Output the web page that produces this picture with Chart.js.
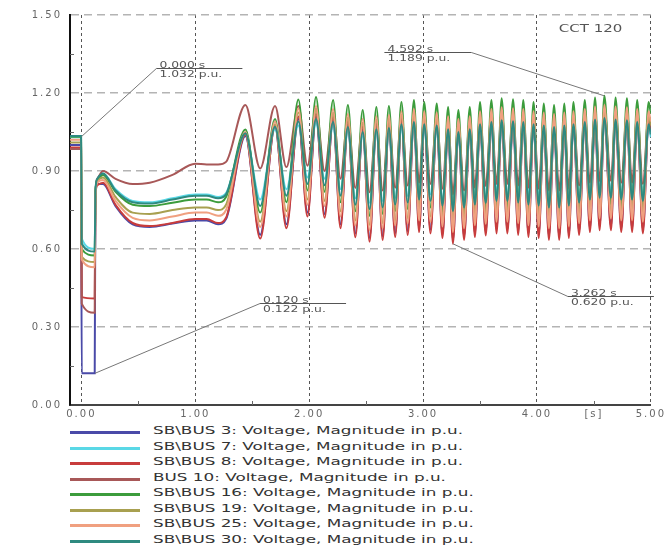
<!DOCTYPE html>
<html>
<head>
<meta charset="utf-8">
<script src="https://cdn.jsdelivr.net/npm/chart.js@4.4.1/dist/chart.umd.min.js"></script>
<style>
  body { margin: 0; background: #fff; }
  #wrap { position: relative; width: 669px; height: 550px; overflow: hidden; }
  #legend { position: absolute; left: 0; top: 425px; width: 669px; }
  .row { position: relative; height: 15.57px; }
  .swatch { position: absolute; left: 70px; top: 6px; width: 70px; height: 3px; }
  .label { position: absolute; left: 153px; top: 0; line-height: 15.57px; font: 10px "DejaVu Sans", sans-serif;
           color: #333; white-space: nowrap; transform: scaleX(1.68); transform-origin: 0 50%; }
</style>
</head>
<body>
<div id="wrap">
  <canvas id="voltChart" width="669" height="425"></canvas>
  <div id="legend"></div>
</div>
<script>
// time base (s): pre-fault / fault / post-fault, then oscillation peaks and troughs
const transientTime = [-0.1, -0.003, 0.003, 0.117, 0.123, 0.14, 0.19, 0.3, 0.45, 0.6, 0.8, 1.0, 1.1, 1.2, 1.27];
const peakTime = [1.44, 1.70, 1.905, 2.06, 2.21, 2.34, 2.47, 2.59, 2.70, 2.81, 2.92, 3.01, 3.12, 3.22, 3.31, 3.41, 3.50,
                  3.60, 3.69, 3.79, 3.88, 3.97, 4.06, 4.15, 4.24, 4.32, 4.42, 4.51, 4.592, 4.69, 4.79, 4.88, 4.98];
const troughTime = [1.57, 1.80, 1.985, 2.135, 2.275, 2.405, 2.53, 2.645, 2.755, 2.865, 2.965, 3.065, 3.17, 3.262, 3.36,
                    3.455, 3.55, 3.645, 3.74, 3.835, 3.925, 4.015, 4.105, 4.195, 4.28, 4.37, 4.465, 4.55, 4.65, 4.74, 4.835, 4.93];
const endTime = 5.0;

const seriesNames = [
  'SB\\BUS 3: Voltage, Magnitude in p.u.',
  'SB\\BUS 7: Voltage, Magnitude in p.u.',
  'SB\\BUS 8: Voltage, Magnitude in p.u.',
  'BUS 10: Voltage, Magnitude in p.u.',
  'SB\\BUS 16: Voltage, Magnitude in p.u.',
  'SB\\BUS 19: Voltage, Magnitude in p.u.',
  'SB\\BUS 25: Voltage, Magnitude in p.u.',
  'SB\\BUS 30: Voltage, Magnitude in p.u.'
];
const seriesColors = ['#4a4aa8', '#5ad8e6', '#c83c3c', '#a85858', '#3c9c3c', '#a8a050', '#f0a080', '#2e8a80'];

const bus3 = {
  transient: [1.00, 1.00, 0.122, 0.122, 0.80, 0.85, 0.85, 0.765, 0.695, 0.685, 0.698, 0.71, 0.71, 0.695, 0.715],
  peaks: [1.035, 1.07, 1.10, 1.11, 1.098, 1.079, 1.06, 1.071, 1.075, 1.09, 1.098, 1.09, 1.085, 1.071, 1.06, 1.071, 1.09,
          1.098, 1.105, 1.101, 1.098, 1.09, 1.085, 1.079, 1.085, 1.09, 1.098, 1.108, 1.114, 1.108, 1.105, 1.098, 1.09],
  troughs: [0.655, 0.695, 0.74, 0.735, 0.695, 0.66, 0.643, 0.65, 0.661, 0.669, 0.68, 0.675, 0.657, 0.635, 0.65, 0.661,
            0.667, 0.675, 0.675, 0.669, 0.661, 0.657, 0.65, 0.65, 0.657, 0.669, 0.68, 0.687, 0.687, 0.68, 0.68, 0.675],
  end: 1.05
};
const bus7 = {
  transient: [1.03, 1.03, 0.64, 0.60, 0.82, 0.87, 0.89, 0.83, 0.785, 0.78, 0.795, 0.81, 0.81, 0.80, 0.815],
  peaks: [1.04, 1.06, 1.075, 1.085, 1.073, 1.054, 1.035, 1.046, 1.05, 1.065, 1.073, 1.065, 1.06, 1.046, 1.035, 1.046, 1.065,
          1.073, 1.08, 1.076, 1.073, 1.065, 1.06, 1.054, 1.06, 1.065, 1.073, 1.083, 1.089, 1.083, 1.08, 1.073, 1.065],
  troughs: [0.79, 0.83, 0.875, 0.87, 0.83, 0.795, 0.778, 0.785, 0.796, 0.804, 0.815, 0.81, 0.792, 0.77, 0.785, 0.796,
            0.802, 0.81, 0.81, 0.804, 0.796, 0.792, 0.785, 0.785, 0.792, 0.804, 0.815, 0.822, 0.822, 0.815, 0.815, 0.81],
  end: 1.03
};
const bus8 = {
  transient: [0.99, 0.99, 0.415, 0.41, 0.80, 0.845, 0.855, 0.77, 0.70, 0.688, 0.70, 0.715, 0.715, 0.70, 0.72],
  peaks: [1.04, 1.075, 1.11, 1.12, 1.108, 1.089, 1.07, 1.081, 1.085, 1.10, 1.108, 1.10, 1.095, 1.081, 1.07, 1.081, 1.10,
          1.108, 1.115, 1.111, 1.108, 1.10, 1.095, 1.089, 1.095, 1.10, 1.108, 1.118, 1.124, 1.118, 1.115, 1.108, 1.10],
  troughs: [0.64, 0.68, 0.725, 0.72, 0.68, 0.645, 0.628, 0.635, 0.646, 0.654, 0.665, 0.66, 0.642, 0.620, 0.635, 0.646,
            0.652, 0.66, 0.66, 0.654, 0.646, 0.642, 0.635, 0.635, 0.642, 0.654, 0.665, 0.672, 0.672, 0.665, 0.665, 0.66],
  end: 1.06
};
const bus10 = {
  transient: [0.985, 0.985, 0.39, 0.355, 0.81, 0.87, 0.90, 0.87, 0.85, 0.855, 0.885, 0.928, 0.925, 0.925, 0.935],
  peaks: [1.154, 1.15, 1.15, 1.14, 1.123, 1.104, 1.085, 1.096, 1.10, 1.115, 1.123, 1.115, 1.11, 1.096, 1.085, 1.096, 1.115,
          1.123, 1.13, 1.126, 1.123, 1.115, 1.11, 1.104, 1.11, 1.115, 1.123, 1.133, 1.139, 1.133, 1.13, 1.123, 1.115],
  troughs: [0.91, 0.915, 0.92, 0.90, 0.87, 0.835, 0.818, 0.825, 0.836, 0.844, 0.855, 0.85, 0.832, 0.81, 0.825, 0.836,
            0.842, 0.85, 0.85, 0.844, 0.836, 0.832, 0.825, 0.825, 0.832, 0.844, 0.855, 0.862, 0.862, 0.855, 0.855, 0.85],
  end: 1.07
};
const bus16 = {
  transient: [1.032, 1.032, 0.60, 0.575, 0.82, 0.865, 0.885, 0.82, 0.77, 0.765, 0.778, 0.79, 0.79, 0.78, 0.80],
  peaks: [1.06, 1.10, 1.175, 1.185, 1.173, 1.154, 1.135, 1.146, 1.15, 1.165, 1.173, 1.165, 1.16, 1.146, 1.135, 1.146, 1.165,
          1.173, 1.18, 1.176, 1.173, 1.165, 1.16, 1.154, 1.16, 1.165, 1.173, 1.183, 1.189, 1.183, 1.18, 1.173, 1.165],
  troughs: [0.74, 0.78, 0.825, 0.82, 0.78, 0.745, 0.728, 0.735, 0.746, 0.754, 0.765, 0.76, 0.742, 0.72, 0.735, 0.746,
            0.752, 0.76, 0.76, 0.754, 0.746, 0.742, 0.735, 0.735, 0.742, 0.754, 0.765, 0.772, 0.772, 0.765, 0.765, 0.76],
  end: 1.12
};
const bus19 = {
  transient: [1.01, 1.01, 0.57, 0.55, 0.81, 0.86, 0.875, 0.80, 0.74, 0.735, 0.75, 0.76, 0.76, 0.75, 0.77],
  peaks: [1.045, 1.08, 1.125, 1.135, 1.123, 1.104, 1.085, 1.096, 1.10, 1.115, 1.123, 1.115, 1.11, 1.096, 1.085, 1.096, 1.115,
          1.123, 1.13, 1.126, 1.123, 1.115, 1.11, 1.104, 1.11, 1.115, 1.123, 1.133, 1.139, 1.133, 1.13, 1.123, 1.115],
  troughs: [0.705, 0.745, 0.79, 0.785, 0.745, 0.71, 0.693, 0.70, 0.711, 0.719, 0.73, 0.725, 0.707, 0.685, 0.70, 0.711,
            0.717, 0.725, 0.725, 0.719, 0.711, 0.707, 0.70, 0.70, 0.707, 0.719, 0.73, 0.737, 0.737, 0.73, 0.73, 0.725],
  end: 1.075
};
const bus25 = {
  transient: [1.02, 1.02, 0.56, 0.53, 0.80, 0.855, 0.865, 0.785, 0.72, 0.71, 0.725, 0.74, 0.74, 0.728, 0.75],
  peaks: [1.05, 1.09, 1.14, 1.15, 1.138, 1.119, 1.10, 1.111, 1.115, 1.13, 1.138, 1.13, 1.125, 1.111, 1.10, 1.111, 1.13,
          1.138, 1.145, 1.141, 1.138, 1.13, 1.125, 1.119, 1.125, 1.13, 1.138, 1.148, 1.154, 1.148, 1.145, 1.138, 1.13],
  troughs: [0.685, 0.725, 0.77, 0.765, 0.725, 0.69, 0.673, 0.68, 0.691, 0.699, 0.71, 0.705, 0.687, 0.665, 0.68, 0.691,
            0.697, 0.705, 0.705, 0.699, 0.691, 0.687, 0.68, 0.68, 0.687, 0.699, 0.71, 0.717, 0.717, 0.71, 0.71, 0.705],
  end: 1.09
};
const bus30 = {
  transient: [1.035, 1.035, 0.62, 0.59, 0.82, 0.87, 0.89, 0.825, 0.78, 0.775, 0.79, 0.805, 0.805, 0.795, 0.81],
  peaks: [1.045, 1.07, 1.09, 1.10, 1.088, 1.069, 1.05, 1.061, 1.065, 1.08, 1.088, 1.08, 1.075, 1.061, 1.05, 1.061, 1.08,
          1.088, 1.095, 1.091, 1.088, 1.08, 1.075, 1.069, 1.075, 1.08, 1.088, 1.098, 1.104, 1.098, 1.095, 1.088, 1.08],
  troughs: [0.765, 0.805, 0.85, 0.845, 0.805, 0.77, 0.753, 0.76, 0.771, 0.779, 0.79, 0.785, 0.767, 0.745, 0.76, 0.771,
            0.777, 0.785, 0.785, 0.779, 0.771, 0.767, 0.76, 0.76, 0.767, 0.779, 0.79, 0.797, 0.797, 0.79, 0.79, 0.785],
  end: 1.04
};
const allSeries = [bus3, bus7, bus8, bus10, bus16, bus19, bus25, bus30];

// axis ticks
const xMajorTicks = [0, 1, 2, 3, 4, 5];
const xMinorTicks = [0.5, 1.5, 2.5, 3.5, 4.5];
const xUnitTick = 4.5;
const xUnitText = '[s]';
const yMajorTicks = [0, 0.3, 0.6, 0.9, 1.2, 1.5];
const yMinorTicks = [0.15, 0.45, 0.75, 1.05, 1.35];

// value callouts
const markerTime = [0.000, 4.592, 3.262, 0.120];
const markerValue = [1.032, 1.189, 0.620, 0.122];
const caseLabel = 'CCT 120';


function buildPoints(s) {
    const pts = transientTime.map((t, i) => ({x: t, y: s.transient[i]}));
    peakTime.forEach((t, i) => {
        pts.push({x: t, y: s.peaks[i]});
        if (i < troughTime.length) pts.push({x: troughTime[i], y: s.troughs[i]});
    });
    pts.push({x: endTime, y: s.end});
    return pts;
}


function stretchText(ctx, text, x, y, sx) {
    ctx.save();
    ctx.translate(x, y);
    ctx.scale(sx, 1);
    ctx.fillText(text, 0, 0);
    ctx.restore();
}


const overlay = {
    id: 'overlay',
    beforeLayout(chart) { chart.ctx.letterSpacing = '2px'; },
    beforeDraw(chart) { chart.ctx.letterSpacing = '2px'; },
    afterDatasetsDraw(chart) {
        const {ctx, chartArea, scales: {x, y}} = chart;
        ctx.save();
        ctx.letterSpacing = '0px';

        // small inward ticks
        ctx.strokeStyle = '#666';
        ctx.lineWidth = 1;
        yMinorTicks.forEach(v => {
            const py = Math.round(y.getPixelForValue(v)) + 0.5;
            ctx.beginPath(); ctx.moveTo(chartArea.left, py); ctx.lineTo(chartArea.left + 4, py); ctx.stroke();
        });
        xMinorTicks.forEach(v => {
            const px = Math.round(x.getPixelForValue(v)) + 0.5;
            ctx.beginPath(); ctx.moveTo(px, chartArea.bottom); ctx.lineTo(px, chartArea.bottom - 4); ctx.stroke();
        });

        // callouts: leader line, bar, two text lines
        const layout = [
            {dx: 75, dy: -69, side: 1},
            {dx: -133, dy: -44, side: -1},
            {dx: 115, dy: 52, side: 1},
            {dx: 165, dy: -70, side: 1}
        ];
        ctx.font = '9.5px "DejaVu Sans"';
        ctx.textAlign = 'left';
        ctx.textBaseline = 'alphabetic';
        markerTime.forEach((t, i) => {
            const ax = x.getPixelForValue(t);
            const ay = y.getPixelForValue(markerValue[i]);
            const l = layout[i];
            const ex = ax + l.dx, ey = Math.round(ay + l.dy) + 0.5;
            const barL = l.side > 0 ? ex : ex - 87;
            const barR = l.side > 0 ? ex + 86 : ex;
            ctx.strokeStyle = '#777';
            ctx.beginPath(); ctx.moveTo(ax, ay); ctx.lineTo(ex, ey); ctx.stroke();
            ctx.strokeStyle = '#555';
            ctx.beginPath(); ctx.moveTo(barL, ey); ctx.lineTo(barR, ey); ctx.stroke();
            ctx.fillStyle = '#555';
            stretchText(ctx, t.toFixed(3) + ' s', barL + 3, ey - 1, 1.3);
            stretchText(ctx, markerValue[i].toFixed(3) + ' p.u.', barL + 3, ey + 8, 1.3);
        });

        ctx.font = '10px "DejaVu Sans"';
        ctx.fillStyle = '#555';
        stretchText(ctx, caseLabel, chartArea.right - 92, chartArea.top + 17, 1.5);
        ctx.restore();
    }
};


const ctx = document.getElementById('voltChart').getContext('2d');
Chart.defaults.font.family = '"DejaVu Sans", sans-serif';

const chart = new Chart(ctx, {
    type: 'line',
    data: {
        datasets: allSeries.map((s, i) => ({
            label: seriesNames[i],
            data: buildPoints(s),
            borderColor: seriesColors[i],
            borderWidth: 2,
            pointRadius: 0,
            cubicInterpolationMode: 'monotone',
            order: allSeries.length - i
        }))
    },
    options: {
        responsive: false,
        animation: false,
        layout: {padding: {top: 15, right: 17, left: 0, bottom: 0}},
        plugins: {legend: {display: false}, tooltip: {enabled: false}},
        scales: {
            x: {
                type: 'linear',
                min: -0.1,
                max: 5.0,
                afterFit: s => { s.height = 20; },
                afterBuildTicks: s => {
                    s.ticks = [...xMajorTicks, xUnitTick].sort((a, b) => a - b).map(v => ({value: v}));
                },
                ticks: {
                    autoSkip: false,
                    maxRotation: 0,
                    padding: 3,
                    color: '#666',
                    font: {size: 10},
                    callback: v => v === xUnitTick ? xUnitText : v.toFixed(2)
                },
                grid: {
                    drawTicks: false,
                    lineWidth: 1,
                    color: c => (c.tick && xMajorTicks.includes(c.tick.value)) ? '#555' : 'rgba(0,0,0,0)'
                },
                border: {display: true, color: '#444', width: 2, dash: [3, 3]}
            },
            y: {
                min: 0,
                max: 1.5,
                afterFit: s => { s.width = 70; },
                afterBuildTicks: s => { s.ticks = yMajorTicks.map(v => ({value: v})); },
                ticks: {
                    padding: 8,
                    color: '#666',
                    font: {size: 10},
                    callback: v => v.toFixed(2)
                },
                grid: {drawTicks: false, lineWidth: 1.5, color: '#b4b4b4'},
                border: {display: true, color: '#111', width: 2, dash: [8, 5]}
            }
        }
    },
    plugins: [overlay]
});


// legend below the chart
const legend = document.getElementById('legend');
seriesNames.forEach((name, i) => {
    legend.innerHTML += `
        <div class="row">
            <div class="swatch" style="background:${seriesColors[i]}"></div>
            <div class="label">${name}</div>
        </div>`;
});
</script>
</body>
</html>
